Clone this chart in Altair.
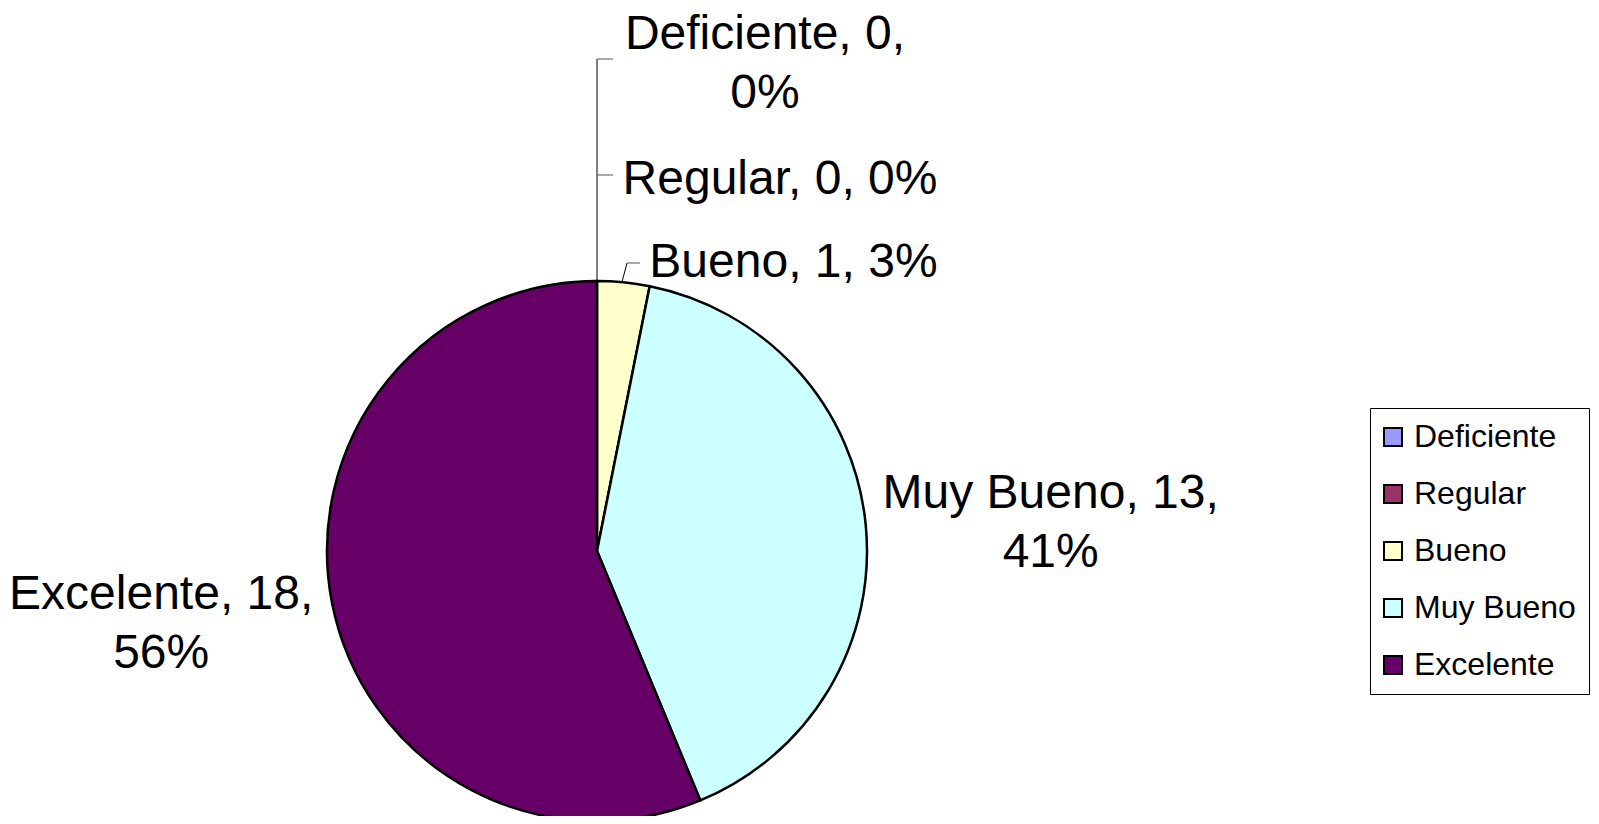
import altair as alt
import pandas as pd

categories = ["Deficiente", "Regular", "Bueno", "Muy Bueno", "Excelente"]
values = [0, 0, 1, 13, 18]
colors = ["#9999FF", "#993366", "#FFFFCC", "#CCFFFF", "#660066"]
wrap_after_value = [True, False, False, True, True]

total = sum(values)
labels = []
for c, v, w in zip(categories, values, wrap_after_value):
    pct = f"{round(100 * v / total)}%"
    sep = ",\n" if w else ", "
    labels.append(f"{c}, {v}{sep}{pct}")

df = pd.DataFrame({
    "cat": categories,
    "value": values,
    "ord": list(range(len(categories))),
    "label": labels,
})

FONT = "Liberation Sans"
CX, CY, R = 589, 543, 270

base = alt.Chart(df)

pie = base.mark_arc(outerRadius=R, stroke="black", strokeWidth=2.5).encode(
    theta=alt.Theta("value:Q", stack=True),
    order=alt.Order("ord:Q", sort="ascending"),
    color=alt.Color(
        "cat:N",
        scale=alt.Scale(domain=categories, range=colors),
        sort=categories,
        legend=alt.Legend(
            title=None,
            orient="none",
            legendX=1362,
            legendY=400,
            direction="vertical",
            symbolType="square",
            symbolSize=324,
            symbolStrokeColor="black",
            symbolStrokeWidth=2,
            symbolOpacity=1,
            symbolOffset=-6,
            labelFont=FONT,
            labelFontSize=32,
            labelColor="black",
            labelOffset=5,
            rowPadding=25,
            padding=13,
            strokeColor="black",
            fillColor="white",
            labelLimit=400,
        ),
    ),
    x=alt.value(CX),
    y=alt.value(CY),
)

# label offsets relative to slice anchor on the rim
label_offsets = {
    "Deficiente": (168, -232),
    "Regular": (183, -87),
    "Bueno": (170, -5),
    "Muy Bueno": (185, -17),
    "Excelente": (-171, 5),
}

text_layers = []
for c in categories:
    dx, dy = label_offsets[c]
    t = base.mark_text(
        radius=R, dx=dx, dy=dy, align="center", baseline="alphabetic",
        font=FONT, fontSize=48, lineHeight=59, lineBreak="\n", color="black",
    ).encode(
        theta=alt.Theta("value:Q", stack=True),
        order=alt.Order("ord:Q", sort="ascending"),
        text=alt.condition(f"datum.cat == '{c}'", alt.Text("label:N"), alt.value("")),
        x=alt.value(CX),
        y=alt.value(CY),
    )
    text_layers.append(t)

one = alt.Chart(pd.DataFrame({"k": [0]}))
leaders = [
    one.mark_rule(color="black", strokeWidth=1).encode(
        x=alt.value(589), x2=alt.value(589), y=alt.value(51), y2=alt.value(273)),
    one.mark_rule(color="#555555", strokeWidth=1).encode(
        x=alt.value(589), x2=alt.value(605), y=alt.value(51), y2=alt.value(51)),
    one.mark_rule(color="#555555", strokeWidth=1).encode(
        x=alt.value(589), x2=alt.value(605), y=alt.value(167), y2=alt.value(167)),
    one.mark_rule(color="black", strokeWidth=1).encode(
        x=alt.value(614), x2=alt.value(619), y=alt.value(274), y2=alt.value(255)),
    one.mark_rule(color="#555555", strokeWidth=1).encode(
        x=alt.value(619), x2=alt.value(632), y=alt.value(255), y2=alt.value(255)),
]

chart = alt.layer(pie, *leaders, *text_layers).properties(
    width=1583, height=808, padding=0, background="white",
    autosize=alt.AutoSizeParams(type="none"),
).configure_view(stroke=None)

chart.save("out.html", embed_options={"renderer": "svg", "actions": False})
